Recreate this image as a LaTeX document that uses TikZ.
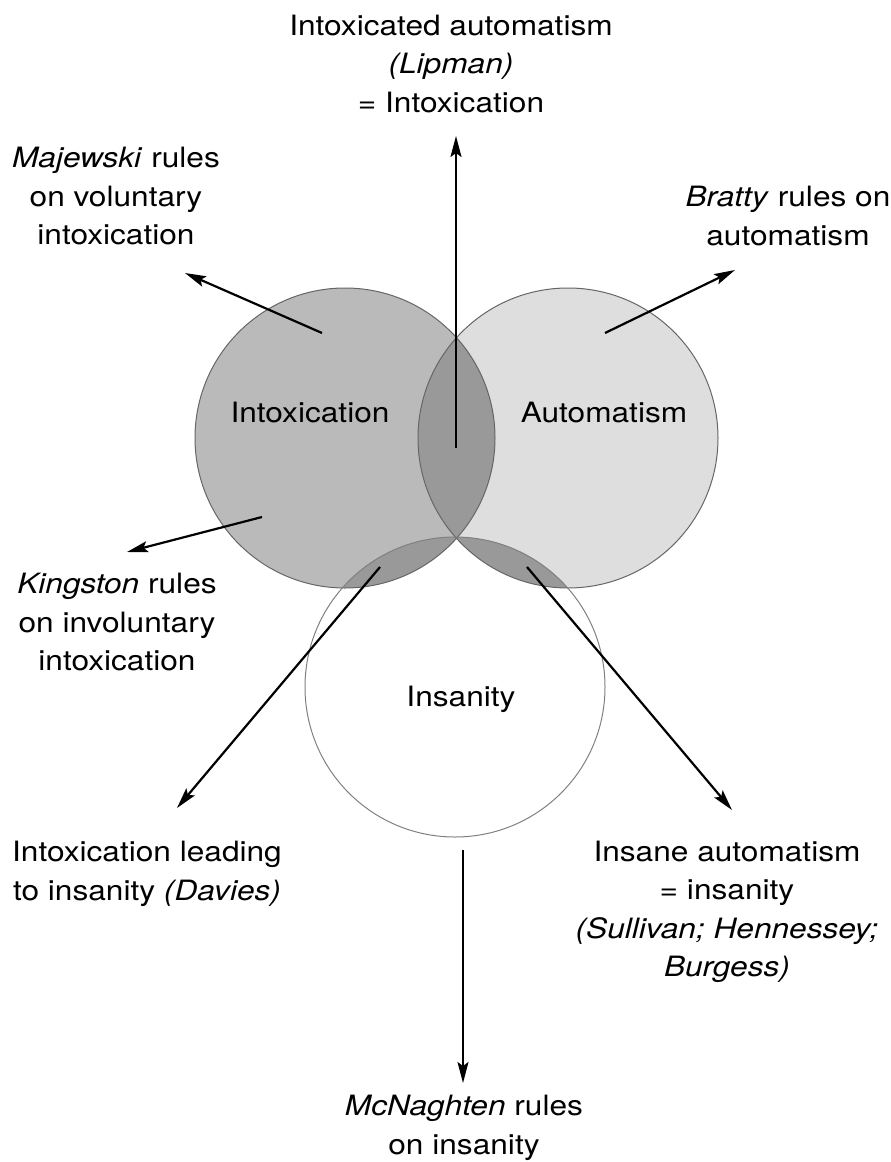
\documentclass[tikz,border=0pt]{standalone}
\usepackage{fontspec}
\setmainfont{TeX Gyre Heros}[FakeStretch=1.13]
\usetikzlibrary{arrows.meta}

\definecolor{intoxfill}{gray}{0.73}
\definecolor{autofill}{gray}{0.87}
\definecolor{lensfill}{gray}{0.60}

\begin{document}
\begin{tikzpicture}[x=1pt,y=-1pt,>={Stealth[length=21pt,width=11pt,inset=4pt]},
                arr/.style={->,line width=2.2pt},
                venn/.style={circle,draw=black!60,line width=1pt,minimum size=300pt,inner sep=0pt},
                lbl/.style={align=center,inner sep=0pt,font=\fontsize{28}{38.5}\selectfont}]
  \useasboundingbox (0,0) rectangle (891,1162);

  % circle centres
  \coordinate (ci) at (345,438);
  \coordinate (ca) at (568,438);
  \coordinate (cs) at (455,687);

  % fills
  \fill[intoxfill] (ci) circle[radius=150pt];
  \fill[autofill] (ca) circle[radius=150pt];
  \begin{scope}
    \clip (ci) circle[radius=150pt];
    \fill[lensfill] (ca) circle[radius=150pt];
    \fill[lensfill] (cs) circle[radius=150pt];
  \end{scope}
  \begin{scope}
    \clip (ca) circle[radius=150pt];
    \fill[lensfill] (cs) circle[radius=150pt];
  \end{scope}

  \node[venn] (intox) at (ci) {};
  \node[venn] (auto) at (ca) {};
  \node[venn,draw=black!50] (insan) at (cs) {};

  \node[lbl] (intoxl) at (310,412) {Intoxication};
  \node[lbl] (autol) at (604,412) {Automatism};
  \node[lbl] (insanl) at (461,699) {Insanity};

  % outer labels
  \node[lbl] (lipman) at (451,64) {Intoxicated automatism\\\textit{(Lipman)}\\= Intoxication};
  \node[lbl] (majewski) at (116,196) {\textit{Majewski} rules\\on voluntary\\intoxication};
  \node[lbl] (bratty) at (788,216) {\textit{Bratty} rules on\\automatism};
  \node[lbl] (kingston) at (117,622) {\textit{Kingston} rules\\on involuntary\\intoxication};
  \node[lbl] (davies) at (147,874) {Intoxication leading\\to insanity \textit{(Davies)}};
  \node[lbl] (insaut) at (727,912) {Insane automatism\\= insanity\\\textit{(Sullivan; Hennessey;}\\\textit{Burgess)}};
  \node[lbl] (mcn) at (464,1128) {\textit{McNaghten} rules\\on insanity};

  % arrow ends
  \coordinate (t1) at (456,448);  \coordinate (h1) at (456,136);
  \coordinate (t2) at (322,333);  \coordinate (h2) at (185,273);
  \coordinate (t3) at (605,333);  \coordinate (h3) at (735,270);
  \coordinate (t4) at (262,517);  \coordinate (h4) at (127,552);
  \coordinate (t5) at (380,567);  \coordinate (h5) at (177,808);
  \coordinate (t6) at (527,567);  \coordinate (h6) at (732,810);
  \coordinate (t7) at (463,850);  \coordinate (h7) at (463,1083);

  \foreach \i in {1,...,6}
    \draw[arr] (t\i) -- (h\i);
  \draw[arr,line width=1.6pt] (t7) -- (h7);
\end{tikzpicture}
\end{document}
